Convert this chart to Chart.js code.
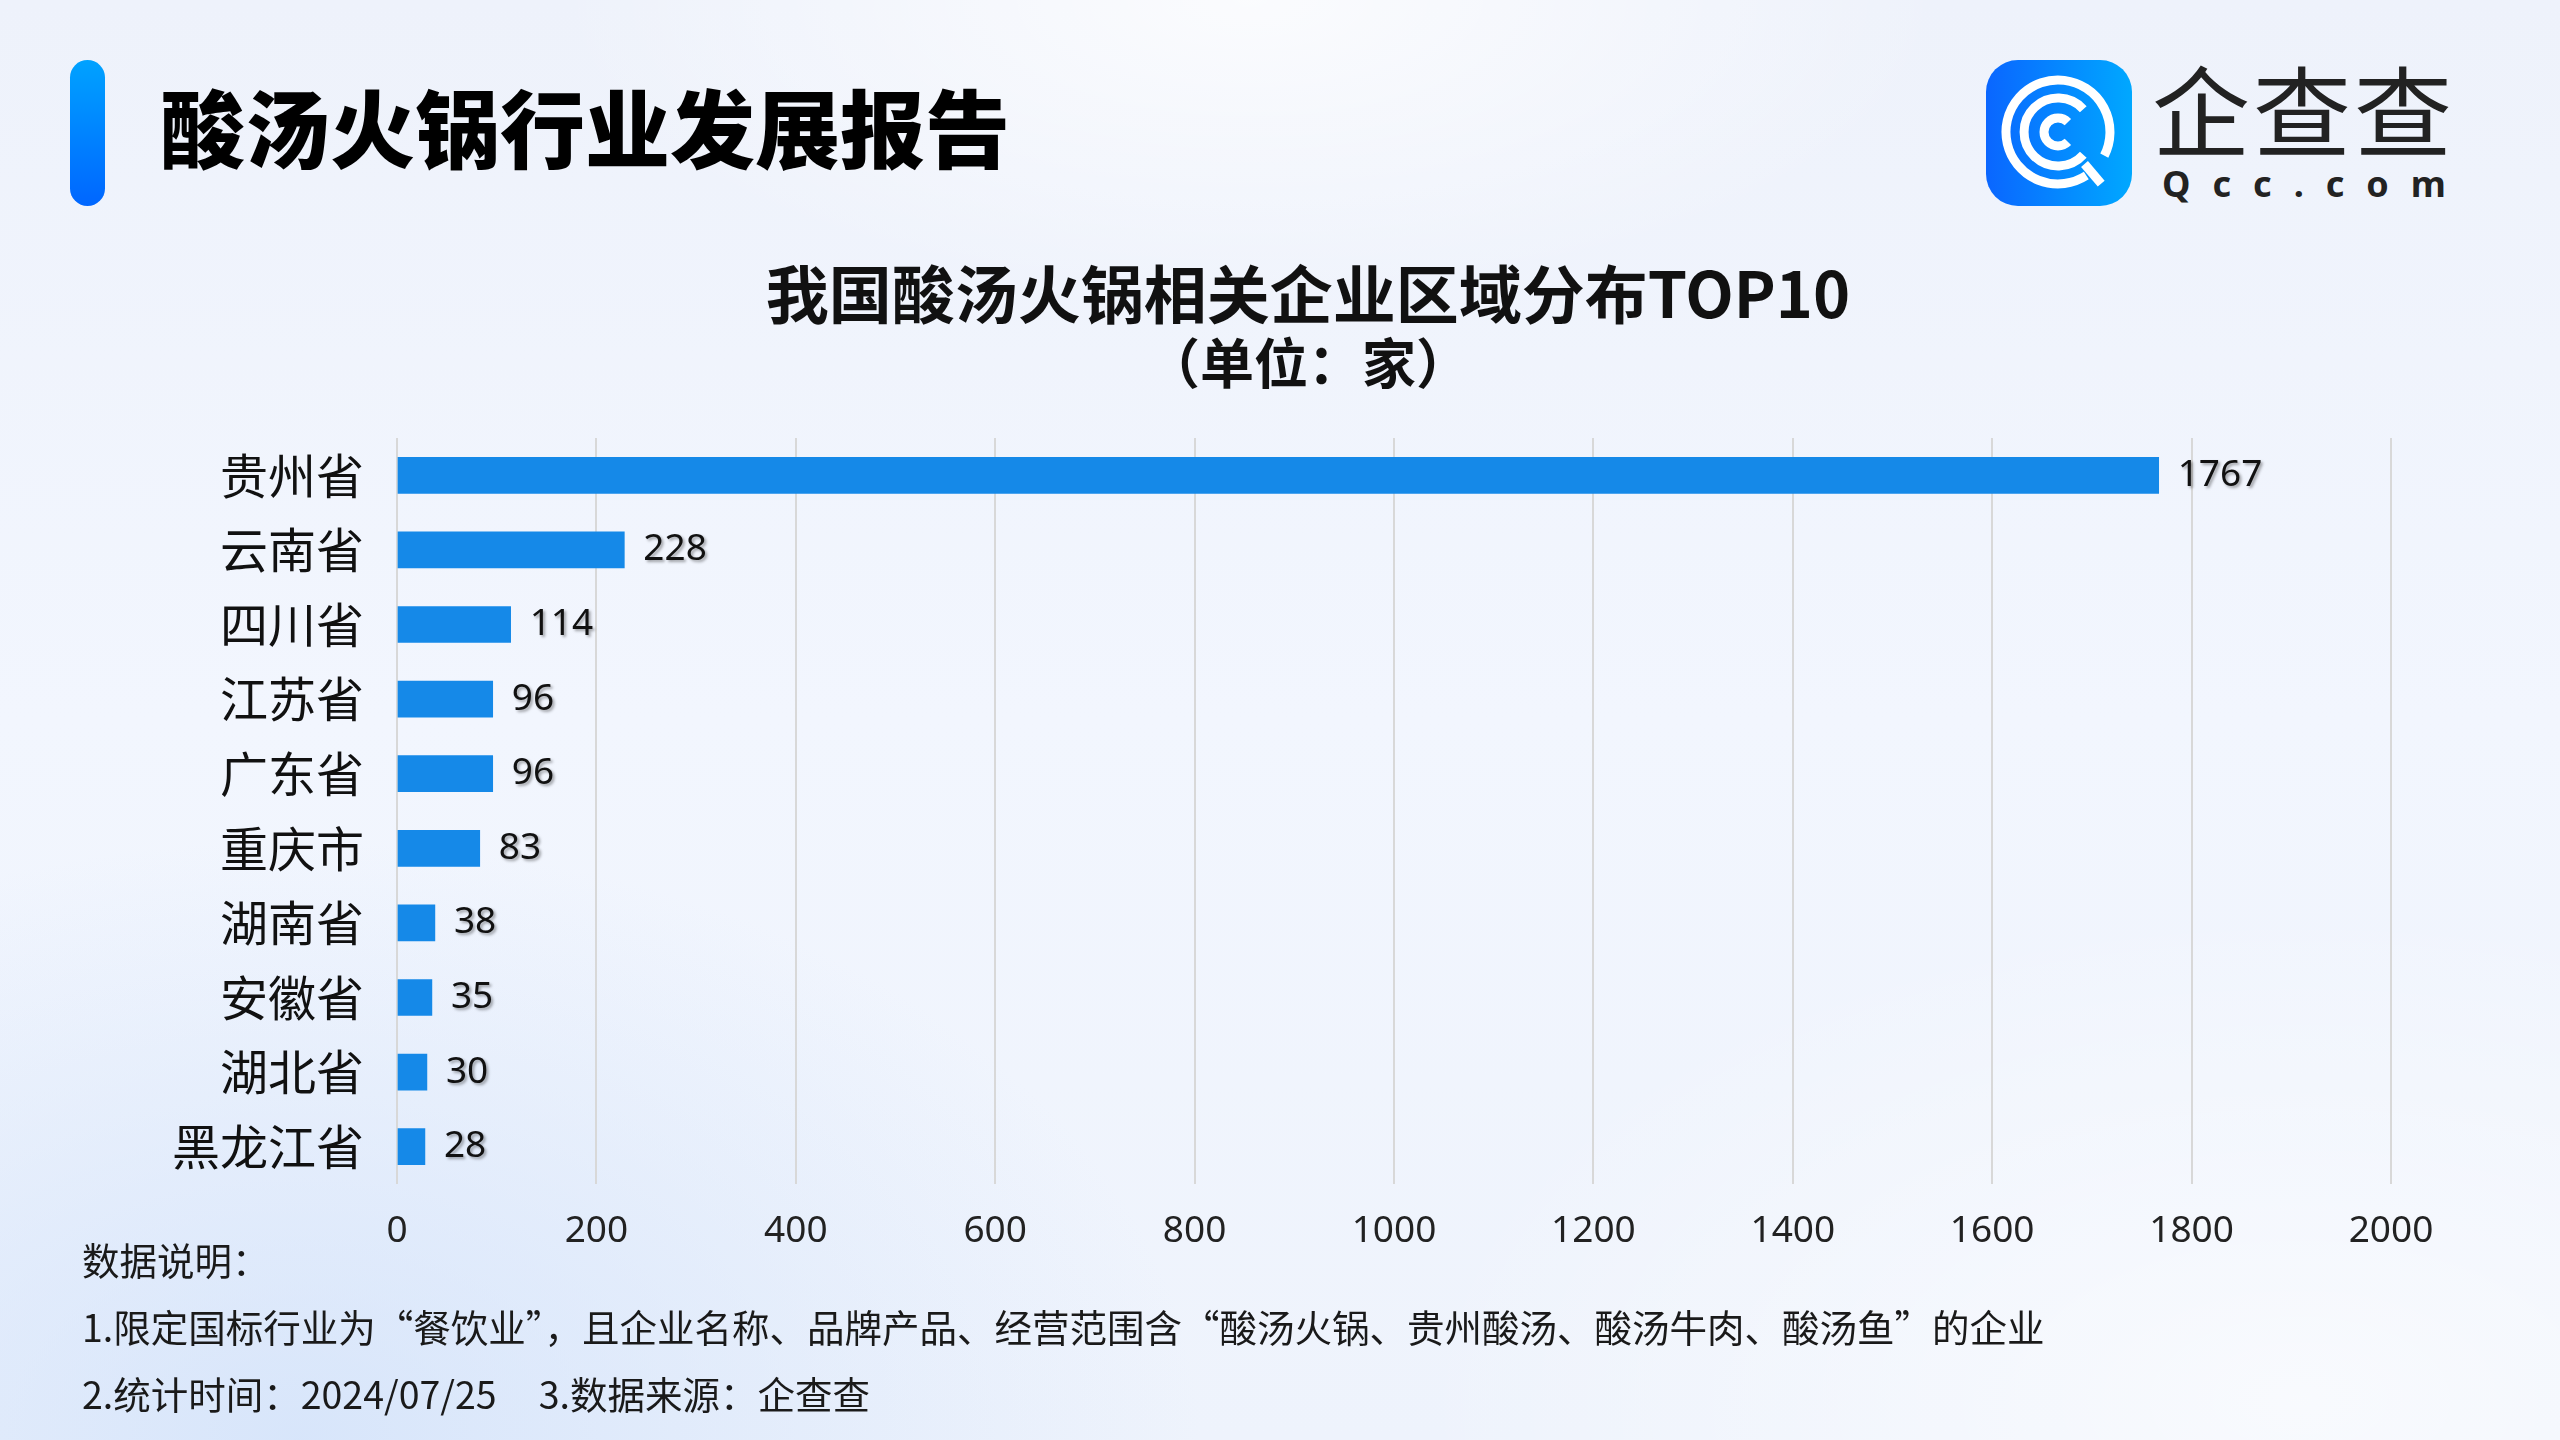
<!DOCTYPE html>
<html lang="zh-CN">
<head>
<meta charset="utf-8">
<title>酸汤火锅行业发展报告</title>
<script src="https://cdn.jsdelivr.net/npm/chart.js@4.4.1/dist/chart.umd.min.js"></script>
<style>
  html, body { margin: 0; padding: 0; }
  body {
    width: 2560px; height: 1440px; overflow: hidden; position: relative;
    font-family: "Noto Sans CJK SC", "Noto Sans", sans-serif;
    background:
      radial-gradient(ellipse 700px 300px at 1250px 0px, rgba(255,255,255,0.75), rgba(255,255,255,0) 100%),
      radial-gradient(ellipse 900px 500px at 2300px 1400px, rgba(255,255,255,0.6), rgba(255,255,255,0) 100%),
      radial-gradient(ellipse 900px 600px at 300px 1440px, rgba(210,226,250,0.8), rgba(210,226,250,0) 100%),
      linear-gradient(180deg, #eef2fb 0%, #f2f6fe 50%, #eef3fc 100%);
  }
  #chart { position: absolute; left: 0; top: 0; }
  .accent {
    position: absolute; left: 70px; top: 60px; width: 35px; height: 146px;
    border-radius: 18px; background: linear-gradient(180deg, #00a2ff, #0066ff);
  }
  .header {
    position: absolute; left: 160px; top: 76px; line-height: 98px;
    font-size: 85px; font-weight: 900; color: #000; white-space: nowrap;
  }
  .chart-title {
    position: absolute; left: 0; width: 2616px; text-align: center;
    font-weight: 700; color: #111; white-space: nowrap;
  }
  .t1 { top: 252px; font-size: 63px; line-height: 78px; }
  .t2 { top: 328px; font-size: 54px; line-height: 66px; }
  .logo-icon { position: absolute; left: 1986px; top: 60px; }
  .logo-cn {
    position: absolute; left: 2152px; top: 46px; font-size: 98px; line-height: 120px;
    color: #222; letter-spacing: 3px; white-space: nowrap;
  }
  .logo-en {
    position: absolute; left: 2162px; top: 160px; font-family: "Noto Sans", sans-serif;
    font-size: 36px; line-height: 48px; font-weight: 700; color: #222; letter-spacing: 22px;
  }
  .note {
    position: absolute; left: 82px; font-size: 37.5px; line-height: 48px; color: #1a1a1a; white-space: nowrap;
  }
</style>
</head>
<body>
<div class="accent"></div>
<div class="header">酸汤火锅行业发展报告</div>

<svg class="logo-icon" width="146" height="146" viewBox="0 0 146 146">
  <defs>
    <linearGradient id="lg" x1="0" y1="0" x2="1" y2="0">
      <stop offset="0" stop-color="#0a66ff"/>
      <stop offset="1" stop-color="#00a8ff"/>
    </linearGradient>
  </defs>
  <rect x="0" y="0" width="146" height="146" rx="32" fill="url(#lg)"/>
  <g fill="none" stroke="#fff" stroke-width="9" stroke-linecap="butt">
    <path d="M 118.3 95.6 A 52 52 0 1 0 100.3 115.6"/>
    <path d="M 97.3 49.2 A 34 34 0 1 0 97.3 94.8"/>
    <path d="M 81.9 62.1 A 14 14 0 1 0 81.9 81.9"/>
    <path d="M 98.5 104.0 L 115.2 123.6"/>
  </g>
</svg>
<div class="logo-cn">企查查</div>
<div class="logo-en">Qcc.com</div>

<div class="chart-title t1">我国酸汤火锅相关企业区域分布TOP10</div>
<div class="chart-title t2">（单位：家）</div>

<canvas id="chart" width="2560" height="1440"></canvas>

<div class="note" style="top:1235px;">数据说明：</div>
<div class="note" style="top:1302px;">1.限定国标行业为“餐饮业”，且企业名称、品牌产品、经营范围含“酸汤火锅、贵州酸汤、酸汤牛肉、酸汤鱼”的企业</div>
<div class="note" style="top:1369px;">2.统计时间：2024/07/25<span style="display:inline-block;width:42px;"></span>3.数据来源：企查查</div>

<script>
const categories = ['贵州省', '云南省', '四川省', '江苏省', '广东省', '重庆市', '湖南省', '安徽省', '湖北省', '黑龙江省'];
const companyCounts = [1767, 228, 114, 96, 96, 83, 38, 35, 30, 28];
const xTickValues = [0, 200, 400, 600, 800, 1000, 1200, 1400, 1600, 1800, 2000];

const barColor = '#1589e8';

// value labels at the end of each bar
const valueLabels = {
    id: 'valueLabels',
    afterDatasetsDraw(chart) {
        const ctx = chart.ctx;
        const meta = chart.getDatasetMeta(0);
        ctx.save();
        ctx.font = '37px "Noto Sans"';
        ctx.fillStyle = '#111';
        ctx.textAlign = 'left';
        ctx.textBaseline = 'middle';
        ctx.shadowColor = 'rgba(0, 0, 0, 0.35)';
        ctx.shadowOffsetX = 2;
        ctx.shadowOffsetY = 2;
        ctx.shadowBlur = 3;
        meta.data.forEach((bar, i) => {
            ctx.fillText(String(companyCounts[i]), bar.x + 19, bar.y);
        });
        ctx.restore();
    }
};

const ctx = document.getElementById('chart').getContext('2d');

new Chart(ctx, {
    type: 'bar',
    data: {
        labels: categories,
        datasets: [{
            label: '企业数量',
            data: companyCounts,
            backgroundColor: barColor,
            borderWidth: 0,
            barThickness: 36
        }]
    },
    options: {
        indexAxis: 'y',
        responsive: false,
        animation: false,
        devicePixelRatio: 1,
        layout: {
            padding: { left: 0, top: 438, right: 169, bottom: 0 }
        },
        plugins: {
            legend: { display: false },
            tooltip: { enabled: false }
        },
        scales: {
            x: {
                min: 0,
                max: 2000,
                afterBuildTicks(scale) {
                    scale.ticks = xTickValues.map(v => ({ value: v }));
                },
                afterFit(scale) { scale.height = 256; },
                grid: { color: '#d8d8d8', lineWidth: 2, drawTicks: false },
                border: { display: false },
                ticks: {
                    padding: 25,
                    color: '#222',
                    font: { family: 'Noto Sans', size: 37 },
                    callback: (value) => String(value)
                }
            },
            y: {
                afterFit(scale) { scale.width = 397; },
                grid: { display: false },
                border: { display: false },
                ticks: {
                    padding: 25,
                    color: '#111',
                    font: { family: 'Noto Sans CJK SC', size: 48 }
                }
            }
        }
    },
    plugins: [valueLabels]
});
</script>
</body>
</html>
